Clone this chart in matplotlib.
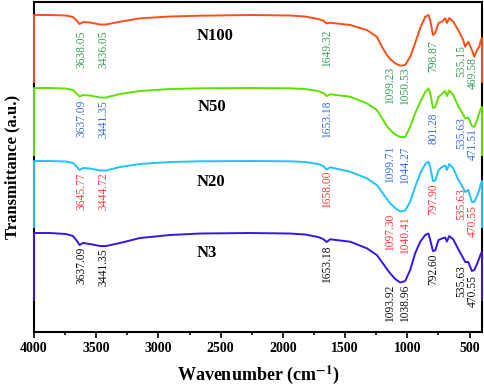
import matplotlib
matplotlib.use("Agg")
import matplotlib.pyplot as plt
import numpy as np
from matplotlib.ticker import MultipleLocator

plt.rcParams['font.family'] = 'Liberation Serif'
plt.rcParams['mathtext.fontset'] = 'stix'

# wavenumber grid (cm-1); first and last points are the vertical end drops
wn = [4000, 4000, 3871, 3743, 3686, 3654, 3634, 3606, 3550, 3469, 3421, 3309, 3148,
      2907, 2665, 2263, 1942, 1821, 1717, 1676, 1648, 1620, 1459, 1325, 1245,
      1204, 1164, 1138, 1097, 1057, 1017, 977, 937, 896, 856, 830, 816, 794,
      776, 749, 722, 695, 682, 663, 631, 591, 551, 535, 510, 481, 462, 440,
      422, 408, 400, 400]

n100 = [250, 317, 317, 316.5, 315, 311, 308, 310, 309.5, 307.5, 307.5, 310.3, 313.7,
        315.5, 316.3, 317, 316.5, 315.5, 313, 311.5, 308.5, 309.3, 307, 302, 295.3,
        285.3, 277, 273, 268.7, 266.3, 267, 275.3, 289, 304, 315.3, 317, 312, 297,
        299, 309, 310.3, 313.7, 309, 314, 310.3, 302, 292, 285.3, 290.3, 282, 275.3, 282,
        285.3, 292, 294, 250]

n50 = [177, 244, 244, 243.5, 242, 238, 235.5, 237, 236.5, 234.5, 234.5, 238, 241,
       243, 243.7, 244, 243.7, 243, 241, 239, 236, 237.7, 235.3, 228.7, 222,
       214, 206, 202, 197.5, 195, 195, 205.3, 218.7, 230, 240, 243.5, 239, 224,
       225, 235, 238, 241, 236, 241.5, 237, 226, 217.5, 213.5, 214.5, 206, 205, 212,
       218.7, 223.7, 225, 177]

n20 = [105, 171, 171, 170.5, 169, 165, 162, 164, 163.5, 161.5, 161.5, 165, 168,
       170, 170.7, 171, 170.7, 170, 168, 166, 162.5, 164.7, 160.3, 153.7, 147,
       140, 133, 128.7, 124, 120.5, 121.5, 130.3, 145.3, 158.7, 168, 170.3, 165, 151,
       151.5, 162, 165, 166.5, 162, 168, 163.7, 152.5, 144, 140, 142, 130, 130, 136,
       142, 148.7, 151, 105]

n3 = [32, 99, 99, 98, 96, 91, 87, 89, 88, 86, 86, 89, 94,
      97, 98.5, 99, 98.5, 97.5, 95, 93, 90, 92.7, 90.3, 83.7, 77,
      70, 63, 58.7, 53, 49.5, 51, 62, 78.7, 90.3, 97, 98.5, 92, 81,
      81.5, 92, 93.5, 94.5, 90.5, 96, 92.7, 83, 74, 70, 70, 61, 62, 68,
      73.7, 78.7, 80, 32]

names = ['N100', 'N50', 'N20', 'N3']
line_colors = ['#ff4d1a', '#5fe000', '#1ec3ff', '#3a12ee']
text_colors = ['#3a9e5c', '#3c6fdc', '#ff3a3a', '#111111']

# peak labels: text, label x position, label top
peaks_n100 = ['3638.05', '3436.05', '1649.32', '1099.23', '1050.53', '798.87', '535.15', '469.58']
peaks_n50 = ['3637.09', '3441.35', '1653.18', '1099.71', '1044.27', '801.28', '535.63', '471.51']
peaks_n20 = ['3645.77', '3444.72', '1658.00', '1097.30', '1040.41', '797.90', '535.63', '470.55']
peaks_n3 = ['3637.09', '3441.35', '1653.18', '1093.92', '1038.96', '792.60', '535.63', '470.55']
label_x = [3616, 3440, 1646, 1137, 1017, 789, 563, 472]
tops_n100 = [302, 302, 302, 265, 265, 292, 287, 275]
tops_n50 = [232, 232, 232, 186, 186, 220, 215, 204]
tops_n20 = [160, 160, 162, 118, 116, 149, 144, 127]
tops_n3 = [85, 84, 87, 47, 47, 79, 67, 57]

name_x = [2545, 2570, 2580, 2615]
name_y = [296, 225, 150, 79]

fig = plt.figure(figsize=(4.84, 3.88), dpi=100)
ax = fig.add_axes([0.0702, 0.1443, 0.9256, 0.8505])

series = [n100, n50, n20, n3]
peaks = [peaks_n100, peaks_n50, peaks_n20, peaks_n3]
tops = [tops_n100, tops_n50, tops_n20, tops_n3]

for i in range(4):
    ax.plot(wn, series[i], color=line_colors[i], lw=1.4, zorder=4, clip_on=False)
    for txt, lx, ty in zip(peaks[i], label_x, tops[i]):
        ax.text(lx, ty, txt, rotation=90, ha='center', va='top',
                fontsize=8.3, color=text_colors[i])
    ax.text(name_x[i], name_y[i], names[i], ha='center', va='center',
            fontsize=12, fontweight='bold')

ax.set_xlim(4000, 400)
ax.set_ylim(0, 330)
ax.xaxis.set_major_locator(MultipleLocator(500))
ax.xaxis.set_minor_locator(MultipleLocator(250))
ax.tick_params(axis='x', which='major', direction='out', length=4, width=1.2,
               labelsize=10, pad=3)
ax.tick_params(axis='x', which='minor', direction='out', length=2.5, width=1.2)
ax.set_yticks([])
for lab in ax.get_xticklabels():
    lab.set_fontweight('bold')
for sp in ax.spines.values():
    sp.set_linewidth(1.5)
    sp.set_zorder(1)

ax.set_xlabel(r'Wavenumber (cm$^{\mathbf{-1}}$)', fontsize=13, fontweight='bold', labelpad=6)
ax.set_ylabel('Transmittance (a.u.)', fontsize=12, fontweight='bold', labelpad=10)

fig.savefig('out.png', dpi=100)
